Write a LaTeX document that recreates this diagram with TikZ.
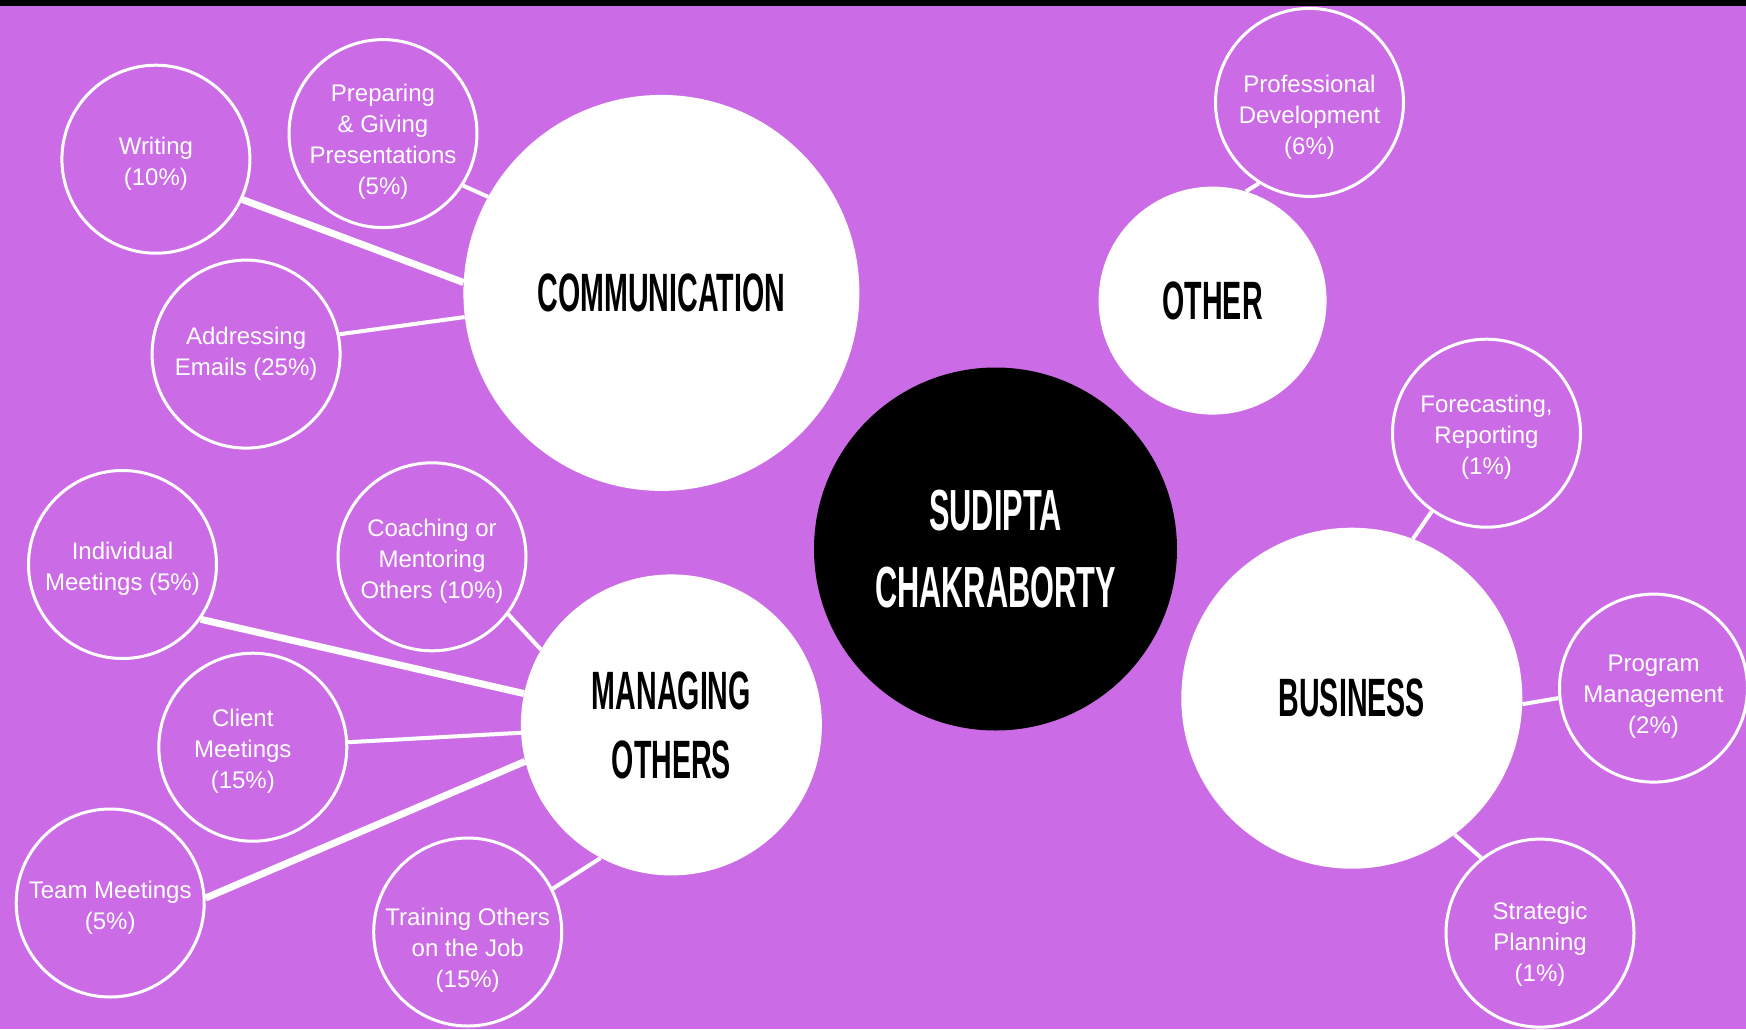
\documentclass[tikz,border=0pt]{standalone}
\usepackage{fontspec}
\setmainfont{Liberation Sans}
\newfontfamily\headfont[FakeStretch=0.53]{Liberation Sans}
\definecolor{bgpurple}{HTML}{CB6CE6}

\begin{document}
\begin{tikzpicture}[x=1pt, y=-1pt,
    topic/.style={fill=white, circle, inner sep=0pt, align=center,
      font=\headfont\bfseries\fontsize{54}{69}\selectfont},
    item/.style={draw=white, line width=3pt, fill=bgpurple, circle,
      minimum size=188pt, inner sep=0pt},
    itemtext/.style={text=white, align=center, inner sep=0pt, yshift=-4.5pt,
      font=\fontsize{24}{31}\selectfont},
    link/.style={white, line width=4pt},
    thicklink/.style={white, line width=7pt}]
    \useasboundingbox (0,0) rectangle (1746,1029);
    \clip (0,0) rectangle (1746,1029);
    \fill[bgpurple] (0,0) rectangle (1746,1029);
    \fill[black] (0,0) rectangle (1746,6);

    % centre and main topics
    \node[circle, fill=black, text=white, inner sep=0pt, minimum size=363pt, align=center,
      font=\headfont\bfseries\fontsize{58}{77}\selectfont] (name) at (995.5, 549) {SUDIPTA\\CHAKRABORTY};
    \node[topic, minimum size=396pt] (comm) at (661.4, 292.9) {COMMUNICATION};
    \node[topic, minimum size=228pt] (other) at (1212.6, 300.6) {OTHER};
    \node[topic, minimum size=301pt] (managing) at (671.4, 724.9) {MANAGING\\OTHERS};
    \node[topic, minimum size=341pt] (business) at (1351.8, 698.2) {BUSINESS};

    % communication items
    \node[item, label={[itemtext]center:{Writing\\(10\%)}}] (writing) at (155.9, 159.2) {};
    \node[item, label={[itemtext, yshift=-4pt]center:{Preparing\\\& Giving\\Presentations\\(5\%)}}] (preparing) at (383.0, 133.6) {};
    \node[item, label={[itemtext, yshift=4.5pt]center:{Addressing\\Emails (25\%)}}] (addressing) at (246.1, 354.1) {};
    % other / business items
    \node[item, label={[itemtext, yshift=-10pt]center:{Professional\\Development\\(6\%)}}] (profdev) at (1309.5, 102.4) {};
    \node[item, label={[itemtext]center:{Forecasting,\\Reporting\\(1\%)}}] (forecast) at (1486.5, 433.2) {};
    \node[item, label={[itemtext, yshift=-4pt]center:{Program\\Management\\(2\%)}}] (program) at (1653.5, 688.1) {};
    \node[item, label={[itemtext, yshift=-7pt]center:{Strategic\\Planning\\(1\%)}}] (strategic) at (1540.0, 933.1) {};
    % managing items
    \node[item, label={[itemtext]center:{Individual\\Meetings (5\%)}}] (individual) at (122.5, 564.5) {};
    \node[item, label={[itemtext]center:{Coaching or\\Mentoring\\Others (10\%)}}] (coaching) at (432.0, 556.8) {};
    \node[item, label={[itemtext, xshift=-10pt]center:{Client\\Meetings\\(15\%)}}] (client) at (252.8, 747.2) {};
    \node[item, label={[itemtext]center:{Team Meetings\\(5\%)}}] (team) at (110.2, 903.0) {};
    \node[item, label={[itemtext, yshift=-14pt]center:{Training Others\\on the Job\\(15\%)}}] (training) at (467.7, 932.0) {};

    % links: communication
    \draw[thicklink] (writing.-25) -- (comm.177);
    \draw[link] (preparing.-33) -- (comm.151);
    \draw[link] (addressing.12) -- (comm.187);
    % links: other, business
    \draw[link] (profdev.-122) -- (other.73);
    \draw[link] (forecast.-125) -- (business.69);
    \draw[link] (program.186) -- (business.-2);
    \draw[link] (strategic.128) -- (business.-53);
    % links: managing
    \draw[thicklink] (individual.-35) -- (managing.168);
    \draw[link] (coaching.-37) -- (managing.150);
    \draw[link] (client.3) -- (managing.183);
    \draw[thicklink] (team.3) -- (managing.194);
    \draw[link] (training.27) -- (managing.242);
\end{tikzpicture}
\end{document}
